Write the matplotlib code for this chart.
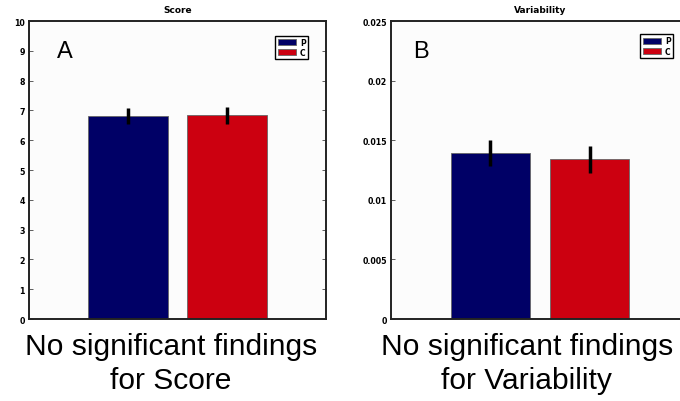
import numpy as np
import matplotlib
matplotlib.use("Agg")
import matplotlib.pyplot as plt
from matplotlib.ticker import FuncFormatter

plt.rcParams['font.family'] = ['Liberation Sans', 'DejaVu Sans']

# data
groups = ['P', 'C']
colors = ['#000066', '#cc0010']

score_mean = [6.82, 6.84]
score_err = [0.27, 0.28]

var_mean = [0.0139, 0.0134]
var_err = [0.00109, 0.00112]

panels = [
    dict(title='Score', letter='A', mean=score_mean, err=score_err,
         ylim=(0, 10), ticks=np.arange(0, 11, 1),
         caption='No significant findings\nfor Score',
         letter_x=0.094, cap_x=0.478, leg_xy=(0.939, 0.951)),
    dict(title='Variability', letter='B', mean=var_mean, err=var_err,
         ylim=(0, 0.025), ticks=np.arange(0, 0.0251, 0.005),
         caption='No significant findings\nfor Variability',
         letter_x=0.074, cap_x=0.456, leg_xy=(0.946, 0.956)),
]

fig = plt.figure(figsize=(6.8, 4.02), dpi=100)
fig.patch.set_facecolor('white')

rects = [[29 / 680, 1 - 320 / 402, 297 / 680, 298 / 402],
         [391 / 680, 1 - 320 / 402, 298 / 680, 298 / 402]]

bold = dict(family='DejaVu Sans', weight='bold')

for rect, p in zip(rects, panels):
    ax = fig.add_axes(rect)
    ax.set_facecolor('#fcfcfc')
    x = np.arange(1, len(groups) + 1)
    bars = ax.bar(x, p['mean'], width=0.8, color=colors,
                  edgecolor='#666666', linewidth=0.6)
    ax.errorbar(x, p['mean'], yerr=p['err'], fmt='none',
                ecolor='black', elinewidth=2.5, capsize=0)
    ax.set_xlim(0, 3)
    ax.set_ylim(*p['ylim'])
    ax.set_xticks([])
    ax.set_yticks(p['ticks'])
    ax.yaxis.set_major_formatter(FuncFormatter(lambda v, pos: '%g' % round(v, 6)))
    ax.tick_params(axis='y', direction='in', length=3, width=0.6,
                   right=True, pad=3, colors='#444444', labelcolor='black')
    for lab in ax.get_yticklabels():
        lab.set_fontproperties(dict(bold, size=5.7))
    for s in ax.spines.values():
        s.set_linewidth(1.4)
        s.set_color('#222222')
    ax.set_title(p['title'], fontdict=dict(bold, size=6.5), pad=6.5)
    ax.text(p['letter_x'], 0.90, p['letter'], transform=ax.transAxes,
            fontsize=17, ha='left', va='center')
    leg = ax.legend(bars, groups, loc='upper right',
                    bbox_to_anchor=p['leg_xy'],
                    prop=dict(bold, size=5.5),
                    handlelength=2.4, handleheight=0.8, handletextpad=0.5,
                    borderpad=0.3, borderaxespad=0, labelspacing=0.15,
                    fancybox=False, framealpha=1, edgecolor='black')
    leg.get_frame().set_linewidth(1.0)
    ax.text(p['cap_x'], -0.045, p['caption'], transform=ax.transAxes,
            fontsize=21.6, ha='center', va='top', linespacing=1.26)

fig.savefig('out.png', dpi=100, facecolor='white')
